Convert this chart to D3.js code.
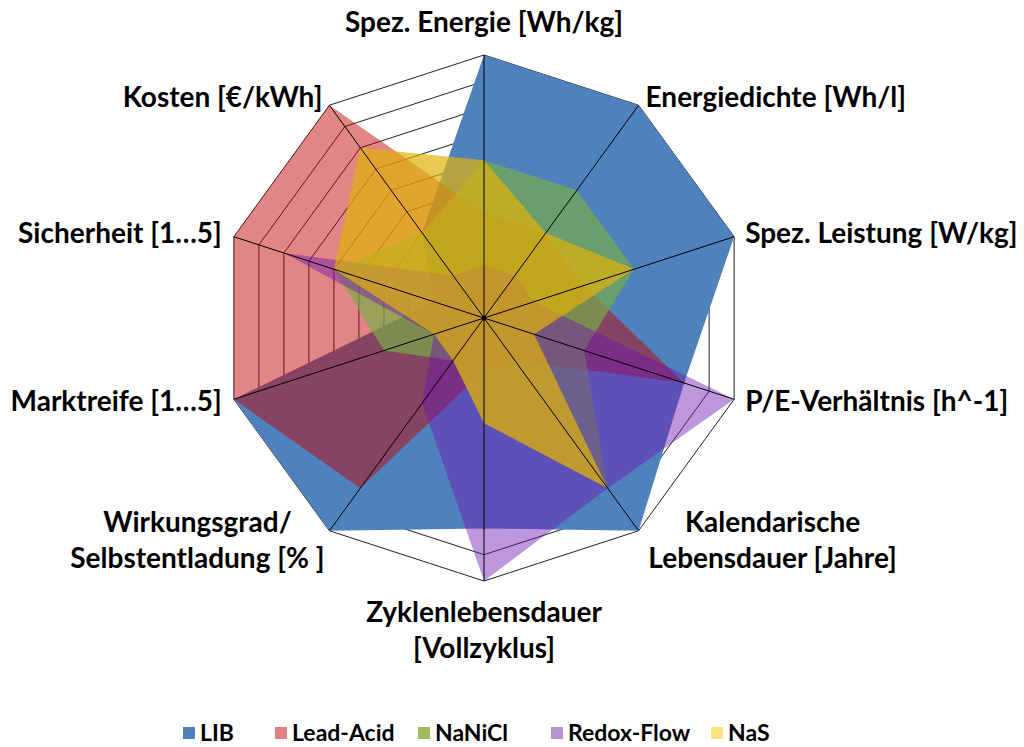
<!DOCTYPE html>
<html>
<head>
<meta charset="utf-8">
<script src="https://cdn.jsdelivr.net/npm/d3@7"></script>
<style>
  body { margin: 0; background: #fff; }
  svg { display: block; }
  text { font-family: Lato, "Open Sans", sans-serif; font-weight: 700; fill: #000; }
</style>
</head>
<body>
<svg id="radar" width="1024" height="747"></svg>
<script>
// axes clockwise from the top
const axes = ['Spez. Energie [Wh/kg]', 'Energiedichte [Wh/l]', 'Spez. Leistung [W/kg]', 'P/E-Verhältnis [h^-1]',
    'Kalendarische\nLebensdauer [Jahre]', 'Zyklenlebensdauer\n[Vollzyklus]', 'Wirkungsgrad/\nSelbstentladung [% ]',
    'Marktreife [1…5]', 'Sicherheit [1…5]', 'Kosten [€/kWh]'];
const seriesNames = ['LIB', 'Lead-Acid', 'NaNiCl', 'Redox-Flow', 'NaS'];
const lib = [10, 10, 10, 8, 10, 8, 10, 10, 2, 4];
const leadAcid = [4, 4, 4, 8, 2, 2, 8, 10, 10, 10];
const naNiCl = [6, 6, 6, 4, 8, 4, 2, 4, 6, 4];
const redoxFlow = [2, 2, 2, 10, 8, 10, 4, 2, 8, 2];
const naS = [6, 4, 6, 2, 8, 4, 2, 2, 6, 8];
const ringLevels = [1, 2, 3, 4, 5, 6, 7, 8, 9, 10];

const allSeries = [lib, leadAcid, naNiCl, redoxFlow, naS];
const fills = ['rgb(79,129,189)', 'rgb(195,0,0)', 'rgb(120,175,70)', 'rgb(111,22,178)', 'rgb(225,178,10)'];
const fillOpacity = [1, 0.48, 0.67, 0.45, 0.7];
const legendColors = ['#4f81bd', '#e08282', '#9dbb61', '#b494d2', '#ffe082'];

const svg = d3.select('#radar');
const cx = 484, cy = 318, R = 263;
const g = svg.append('g').attr('transform', `translate(${cx} ${cy})`);

const r = d3.scaleLinear().domain([0, 10]).range([0, R]);
const angle = d3.scaleLinear().domain([0, axes.length]).range([0, 2 * Math.PI]);

const radial = d3.lineRadial()
    .angle((d, i) => angle(i))
    .radius(d => r(d))
    .curve(d3.curveLinearClosed);

///////////////// grid rings (behind the areas)
g.selectAll('.ring')
    .data(ringLevels)
    .enter().append('path')
    .attr('class', 'ring')
    .attr('d', lv => radial(axes.map(() => lv)))
    .attr('fill', 'none')
    .attr('stroke', '#222')
    .attr('stroke-width', 1);

///////////////// filled areas, LIB first, NaS on top
g.selectAll('.area')
    .data(allSeries)
    .enter().append('path')
    .attr('class', 'area')
    .attr('d', d => radial(d))
    .attr('fill', (d, i) => fills[i])
    .attr('fill-opacity', (d, i) => fillOpacity[i])
    .attr('stroke', 'none');

///////////////// spokes
const pt = (i, v) => {
    const a = angle(i);
    return [r(v) * Math.sin(a), -r(v) * Math.cos(a)];
};
g.selectAll('.spoke')
    .data(axes)
    .enter().append('line')
    .attr('class', 'spoke')
    .attr('x1', 0).attr('y1', 0)
    .attr('x2', (d, i) => pt(i, 10)[0])
    .attr('y2', (d, i) => pt(i, 10)[1])
    .attr('stroke', '#000')
    .attr('stroke-width', 1);

g.append('circle').attr('r', 2.5).attr('fill', '#000');

///////////////// axis labels
// offset from the outer vertex and anchor for each label
const labelPlace = [
    { dx: 0, dy: -33, anchor: 'middle' },
    { dx: 7, dy: -8, anchor: 'start' },
    { dx: 11, dy: -4, anchor: 'start' },
    { dx: 11, dy: 2, anchor: 'start' },
    { dx: 134, dy: -9, anchor: 'middle' },
    { dx: 0, dy: 31, anchor: 'middle' },
    { dx: -132, dy: -9, anchor: 'middle' },
    { dx: -12, dy: 2, anchor: 'end' },
    { dx: -12, dy: -4, anchor: 'end' },
    { dx: -7, dy: -8, anchor: 'end' }
];

axes.forEach((name, i) => {
    const p = pt(i, 10);
    const lp = labelPlace[i];
    const t = g.append('text')
        .attr('x', p[0] + lp.dx)
        .attr('y', p[1] + lp.dy)
        .attr('text-anchor', lp.anchor)
        .style('font-size', '28px');
    name.split('\n').forEach((line, k) => {
        t.append('tspan')
            .attr('x', p[0] + lp.dx)
            .attr('dy', k === 0 ? '0.35em' : '36px')
            .text(line);
    });
});

///////////////// legend
const legendX = [183, 275, 418, 551, 711];
const legend = svg.append('g').attr('transform', 'translate(0 733)');
seriesNames.forEach((name, i) => {
    const item = legend.append('g').attr('transform', `translate(${legendX[i]} 0)`);
    item.append('rect')
        .attr('x', 0).attr('y', -6)
        .attr('width', 12).attr('height', 12)
        .attr('fill', legendColors[i]);
    item.append('text')
        .attr('x', 17).attr('y', 0)
        .attr('dy', '0.35em')
        .style('font-size', '23px')
        .text(name);
});
</script>
</body>
</html>
